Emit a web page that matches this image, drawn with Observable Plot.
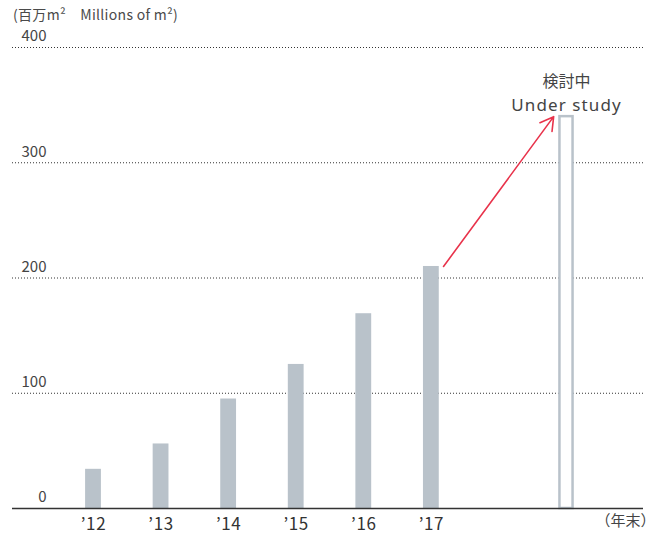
<!DOCTYPE html>
<html>
<head>
<meta charset="utf-8">
<script src="https://cdn.jsdelivr.net/npm/d3@7"></script>
<script src="https://cdn.jsdelivr.net/npm/@observablehq/plot@0.6"></script>
<style>
  html, body { margin: 0; padding: 0; background: #fff; }
  #wrap { position: relative; width: 658px; height: 535px; }
  #unit { position: absolute; left: 13px; top: 4px; font: 14px "Noto Sans CJK JP", "Noto Sans", sans-serif; color: #4a4a4a; white-space: pre; letter-spacing: 0.3px; }
  svg { font-family: "Noto Sans CJK JP", "Noto Sans", sans-serif; }
</style>
</head>
<body>
<div id="wrap"><div id="unit">(百万m²　Millions of m²)</div></div>
<script>
// Data
const yearLabels = ["’12", "’13", "’14", "’15", "’16", "’17"];
const areaValues = [34, 56, 95, 125, 169, 210];
const studyLabelJa = "検討中";
const studyLabelEn = "Under study";
const studyValue = 340;
const studySlot = 7;            // one empty slot after ’17
const yTicks = [0, 100, 200, 300, 400];
const xUnitLabel = "（年末）";

const bars = yearLabels.map((label, i) => ({i, label, value: areaValues[i]}));
const study = [{i: studySlot, value: studyValue}];
const last = bars[bars.length - 1];
const half = 0.117;

const chart = Plot.plot({
  width: 658,
  height: 535,
  marginTop: 47,
  marginBottom: 27,
  marginLeft: 12,
  marginRight: 15,
  x: {type: "linear", domain: [0, studySlot], range: [93, 566]},
  y: {domain: [0, 400]},
  style: {fontSize: "15px", color: "#444", background: "white"},
  marks: [
    Plot.ruleY(yTicks.filter(d => d > 0), {stroke: "#333", strokeWidth: 1, strokeDasharray: "1,2"}),
    Plot.axisY(yTicks, {anchor: "left", tickSize: 0, tickPadding: 0, dx: 34, dy: -11, fill: "#444", fontSize: 15, label: null}),
    Plot.rectY(bars, {x1: d => d.i - half, x2: d => d.i + half, y: "value", fill: "#b9c2ca"}),
    Plot.rectY(study, {x1: d => d.i - half + 0.02, x2: d => d.i + half - 0.02, y1: 0, y2: "value", fill: "white", stroke: "#b9c2ca", strokeWidth: 2.5}),
    Plot.ruleY([0], {stroke: "#333", strokeWidth: 1.5}),
    Plot.axisX(bars.map(d => d.i), {tickSize: 0, tickPadding: 9, tickFormat: i => yearLabels[i], fontSize: 17, fill: "#333", label: null}),
    Plot.text([xUnitLabel], {frameAnchor: "bottom-right", dy: 17, dx: 12, text: d => d, textAnchor: "end", fontSize: 15, fill: "#444"}),
    Plot.arrow([{x1: last.i + 0.18, y1: last.value, x2: studySlot - 0.19, y2: studyValue}], {
      x1: "x1", y1: "y1", x2: "x2", y2: "y2", stroke: "#e8334b", strokeWidth: 1.6, headLength: 14
    }),
    Plot.text(study, {x: "i", y: "value", text: () => studyLabelEn, dy: -11, fontSize: 17, fill: "#444"}),
    Plot.text(study, {x: "i", y: "value", text: () => studyLabelJa, dy: -35, fontSize: 16, fill: "#444"})
  ]
});
d3.select(chart).selectAll("text")
  .filter(function() { return this.textContent === studyLabelEn; })
  .style("letter-spacing", "1.1px")
  .style("font-family", "'Noto Sans', sans-serif");
d3.select(chart).selectAll("text")
  .filter(function() { return yearLabels.includes(this.textContent); })
  .style("letter-spacing", "0.6px");
document.getElementById("wrap").prepend(chart);
chart.style.position = "absolute";
chart.style.left = "0";
chart.style.top = "0";
</script>
</body>
</html>
